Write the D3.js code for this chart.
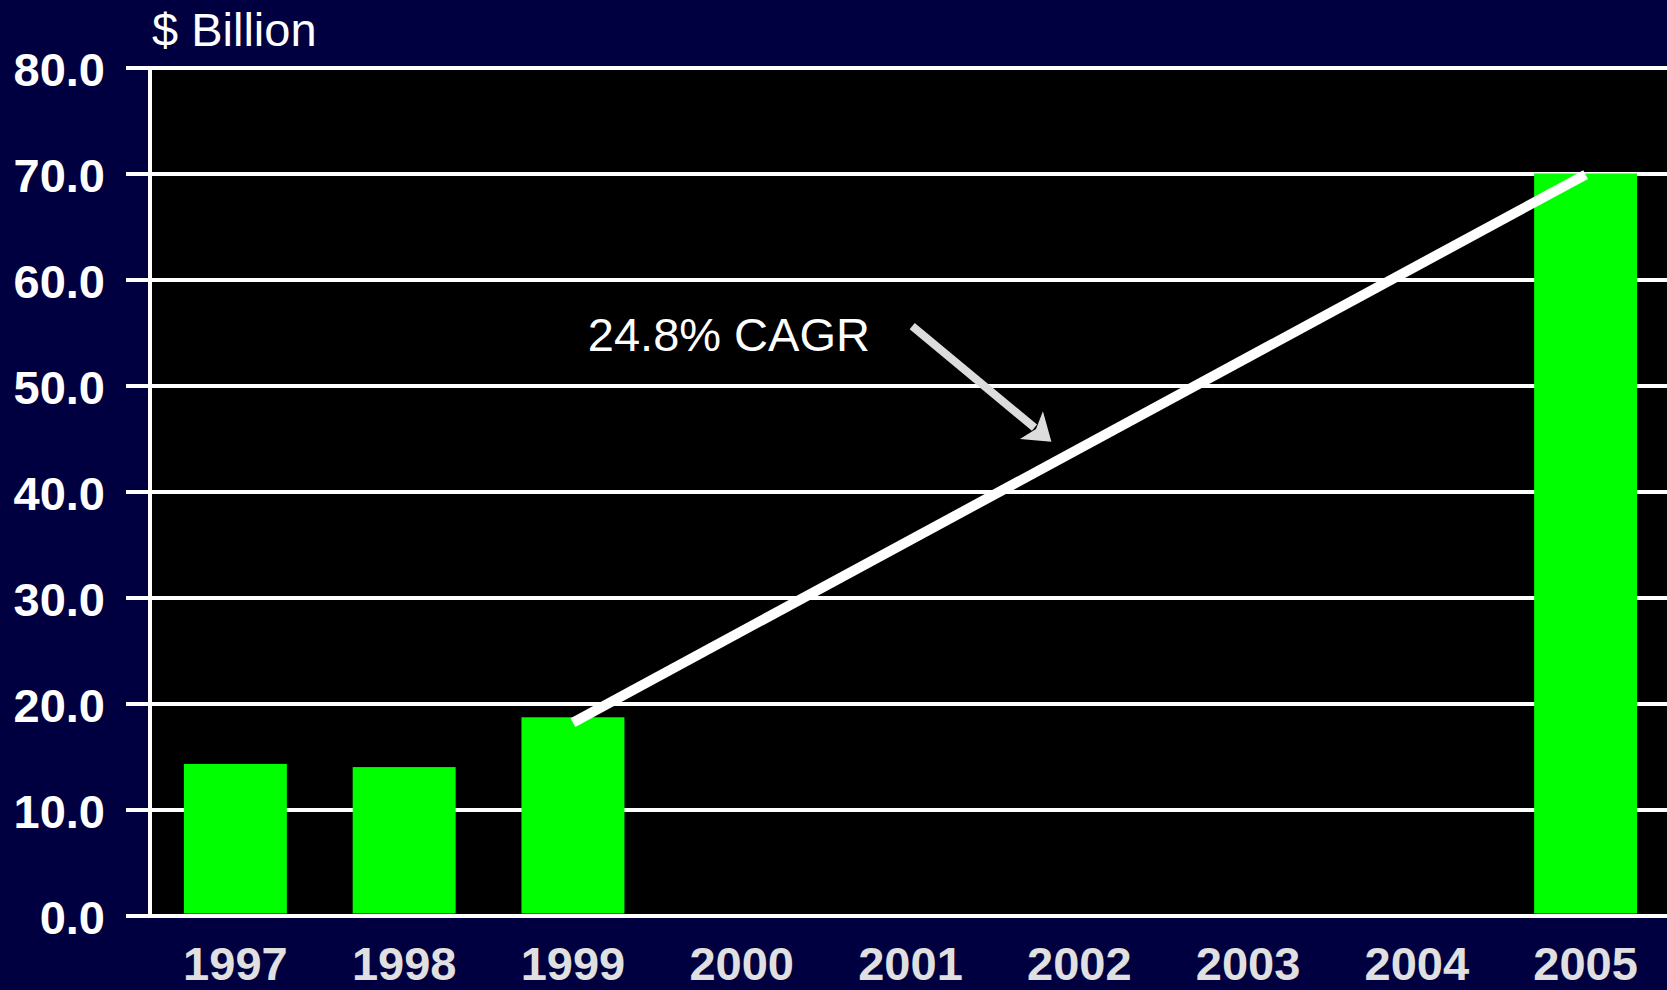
<!DOCTYPE html>
<html><head><meta charset="utf-8">
<script src="https://cdn.jsdelivr.net/npm/d3@7"></script>
<style>html,body{margin:0;padding:0;background:#000040;overflow:hidden}svg{display:block}</style>
</head><body>
<script>
const categories = ["1997","1998","1999","2000","2001","2002","2003","2004","2005"];
const values = [14.3, 14.0, 18.7, null, null, null, null, null, 70.0];
const yTicks = [0,10,20,30,40,50,60,70,80];
const trendFrom = {cat:"1999", value:18.2};
const trendTo = {cat:"2005", value:69.9};
const cagrLabel = "24.8% CAGR";
const unitLabel = "$ Billion";
// annotation anchors in (category index, value)
const arrowFrom = [4.01, 55.6];
const arrowTo = [4.835, 44.7];
const labelAt = [2.088, 53.3];

const W = 1667, H = 990;
const svg = d3.select("body").append("svg").attr("width", W).attr("height", H);
svg.append("rect").attr("width", W).attr("height", H).attr("fill", "#000040");

const plotL = 151, plotR = 1670, y0 = 915.5, yTop = 67.5;
const x = d3.scaleBand().domain(categories).range([plotL, plotR]).paddingInner(0.39).paddingOuter(0.195);
const y = d3.scaleLinear().domain([0, 80]).range([y0, yTop]);
const xi = d3.scaleLinear().domain([0, categories.length - 1])
  .range([x(categories[0]) + x.bandwidth()/2, x(categories[categories.length-1]) + x.bandwidth()/2]);
const cx = c => x(c) + x.bandwidth()/2;

// plot area
svg.append("rect").attr("x", plotL + 1).attr("y", y(80)).attr("width", W - plotL).attr("height", y(0) - y(80)).attr("fill", "#000");

// gridlines + y axis
const yAxis = d3.axisLeft(y).tickValues(yTicks).tickFormat(d3.format(".1f")).tickSize(W - 126).tickPadding(0);
const gy = svg.append("g").attr("transform", `translate(${W},0)`).call(yAxis);
gy.select(".domain").remove();
gy.selectAll(".tick line").attr("stroke", "#fff").attr("stroke-width", 4);
gy.selectAll(".tick text").attr("x", -(W - 105)).attr("dy", "17.5px")
  .attr("fill", "#fff").attr("font-family", "Liberation Sans, Arial, sans-serif")
  .attr("font-size", 47).attr("font-weight", "bold").attr("text-anchor", "end");

// vertical axis line
svg.append("line").attr("x1", 150).attr("x2", 150).attr("y1", y(80)).attr("y2", y(0))
  .attr("stroke", "#fff").attr("stroke-width", 4);

// bars
svg.append("g").selectAll("rect").data(categories.map((c,i)=>({c, v: values[i]})).filter(d => d.v != null))
  .join("rect")
  .attr("x", d => x(d.c)).attr("width", x.bandwidth())
  .attr("y", d => y(d.v)).attr("height", d => y(0) - 2 - y(d.v))
  .attr("fill", "#00ff00");

// x axis labels
const xAxis = d3.axisBottom(x).tickSize(0).tickPadding(0);
const gx = svg.append("g").attr("transform", `translate(0,${y0})`).call(xAxis);
gx.select(".domain").remove();
gx.selectAll(".tick text").attr("y", 64).attr("dy", 0)
  .attr("fill", "#e0e0e0").attr("font-family", "Liberation Sans, Arial, sans-serif")
  .attr("font-size", 47).attr("font-weight", "bold");

// trend line
svg.append("line")
  .attr("x1", cx(trendFrom.cat)).attr("y1", y(trendFrom.value))
  .attr("x2", cx(trendTo.cat)).attr("y2", y(trendTo.value))
  .attr("stroke", "#fff").attr("stroke-width", 10).attr("stroke-linecap", "butt");

// arrow
const ax1 = xi(arrowFrom[0]), ay1 = y(arrowFrom[1]), ax2 = xi(arrowTo[0]), ay2 = y(arrowTo[1]);
const ang = Math.atan2(ay2 - ay1, ax2 - ax1) * 180 / Math.PI;
const len = Math.hypot(ax2 - ax1, ay2 - ay1);
const ga = svg.append("g").attr("transform", `translate(${ax1},${ay1}) rotate(${ang})`);
ga.append("line").attr("x1", 0).attr("y1", 0).attr("x2", len - 22).attr("y2", 0)
  .attr("stroke", "#dcdcdc").attr("stroke-width", 8);
ga.append("path").attr("d", `M${len},0 L${len-26},-18 L${len-20},0 L${len-26},18 Z`).attr("fill", "#dcdcdc");

// labels
svg.append("text").attr("x", xi(labelAt[0])).attr("y", y(labelAt[1]))
  .attr("fill", "#fff").attr("font-family", "Liberation Sans, Arial, sans-serif").attr("font-size", 47)
  .text(cagrLabel);
svg.append("text").attr("x", 152).attr("y", 46)
  .attr("fill", "#fff").attr("font-family", "Liberation Sans, Arial, sans-serif").attr("font-size", 47)
  .text(unitLabel);
</script>
</body></html>
